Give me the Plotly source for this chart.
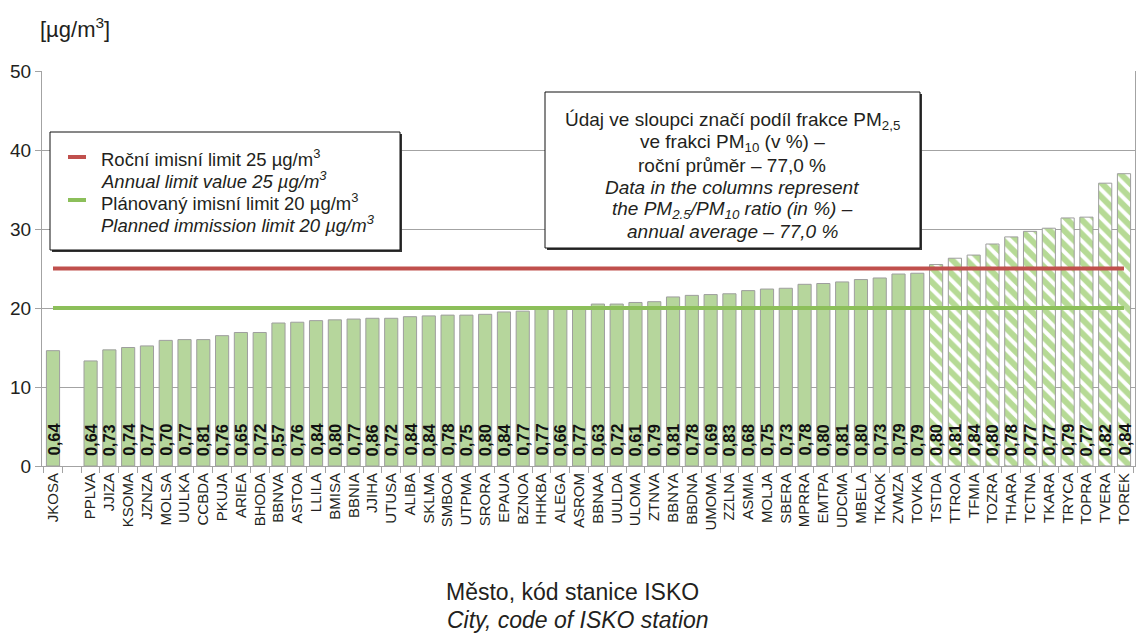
import plotly.graph_objects as go

# ---------------- data ----------------
stations = ["JKOSA", " ", "PPLVA", "JJIZA", "KSOMA", "JZNZA", "MOLSA", "UULKA", "CCBDA", "PKUJA",
            "ARIEA", "BHODA", "BBNVA", "ASTOA", "LLILA", "BMISA", "BBNIA", "JJIHA", "UTUSA", "ALIBA",
            "SKLMA", "SMBOA", "UTPMA", "SRORA", "EPAUA", "BZNOA", "HHKBA", "ALEGA", "ASROM", "BBNAA",
            "UULDA", "ULOMA", "ZTNVA", "BBNYA", "BBDNA", "UMOMA", "ZZLNA", "ASMIA", "MOLJA", "SBERA",
            "MPRRA", "EMTPA", "UDCMA", "MBELA", "TKAOK", "ZVMZA", "TOVKA", "TSTDA", "TTROA", "TFMIA",
            "TOZRA", "THARA", "TCTNA", "TKARA", "TRYCA", "TOPRA", "TVERA", "TOREK"]

pm25 = [14.6, None, 13.3, 14.7, 15.0, 15.2, 15.9, 16.0, 16.0, 16.5,
        16.9, 16.9, 18.1, 18.2, 18.4, 18.5, 18.6, 18.7, 18.7, 18.9,
        19.0, 19.1, 19.1, 19.2, 19.5, 19.6, 20.0, 20.0, 20.1, 20.5,
        20.5, 20.7, 20.8, 21.4, 21.6, 21.7, 21.8, 22.2, 22.4, 22.5,
        23.0, 23.1, 23.3, 23.6, 23.8, 24.3, 24.4, 25.5, 26.3, 26.7,
        28.1, 29.0, 29.7, 30.1, 31.4, 31.5, 35.8, 37.0]

ratio = ["0,64", "", "0,64", "0,73", "0,74", "0,77", "0,70", "0,77", "0,81", "0,76",
         "0,65", "0,72", "0,57", "0,76", "0,84", "0,80", "0,77", "0,86", "0,72", "0,84",
         "0,84", "0,78", "0,75", "0,80", "0,84", "0,77", "0,77", "0,66", "0,77", "0,63",
         "0,72", "0,61", "0,79", "0,81", "0,78", "0,69", "0,83", "0,68", "0,75", "0,73",
         "0,78", "0,80", "0,81", "0,80", "0,73", "0,79", "0,79", "0,80", "0,81", "0,84",
         "0,80", "0,78", "0,77", "0,77", "0,79", "0,77", "0,82", "0,84"]

annual_limit = 25
planned_limit = 20
y_ticks = [0, 10, 20, 30, 40, 50]

# ---------------- style ----------------
FONT = "Liberation Sans, Arial, sans-serif"
TXT = "#231f20"
GRID = "#a3a3a3"
BAR_FILL = "#b6d69c"
BAR_EDGE = "#9e9e9e"
HATCH = "#6db62c"
RED = "#c0504d"
GREEN = "#8cbf5a"

W, H = 1137, 633
L, R, T, B = 42, 2, 71, 167
PW, PH = W - L - R, H - T - B


def px(x):
    return (x - L) / PW


def py(y):
    return (H - B - y) / PH


normal = [v if (v is not None and v <= annual_limit) else None for v in pm25]
over = [v if (v is not None and v > annual_limit) else None for v in pm25]

fig = go.Figure()

fig.add_trace(go.Bar(
    x=stations, y=normal, marker=dict(color=BAR_FILL, line=dict(color=BAR_EDGE, width=1)),
    showlegend=False, hoverinfo="x+y"))
fig.add_trace(go.Bar(
    x=stations, y=over,
    marker=dict(color="white", line=dict(color=BAR_EDGE, width=1),
                pattern=dict(shape="\\", fgcolor=HATCH, bgcolor="white", size=10, solidity=0.6)),
    showlegend=False, hoverinfo="x+y"))

fig.add_trace(go.Scatter(x=[stations[0], stations[-1]], y=[annual_limit] * 2, mode="lines",
                         line=dict(color=RED, width=4), showlegend=False, hoverinfo="skip"))
fig.add_trace(go.Scatter(x=[stations[0], stations[-1]], y=[planned_limit] * 2, mode="lines",
                         line=dict(color=GREEN, width=4), showlegend=False, hoverinfo="skip"))

annotations = []
for s, r in zip(stations, ratio):
    if r:
        annotations.append(dict(x=s, y=0, xref="x", yref="y", text="<b>" + r + "</b>",
                                textangle=-90, showarrow=False, yanchor="bottom", yshift=8,
                                font=dict(family=FONT, size=16.5, color="#111111")))

shapes = []
# legend box (shadow + box)
shapes.append(dict(type="rect", xref="paper", yref="paper", x0=px(52), x1=px(402), y0=py(252), y1=py(134),
                   fillcolor="#333333", line=dict(width=0), layer="above"))
shapes.append(dict(type="rect", xref="paper", yref="paper", x0=px(50), x1=px(400), y0=py(250), y1=py(132),
                   fillcolor="white", line=dict(color="#111111", width=1), layer="above"))
shapes.append(dict(type="line", xref="paper", yref="paper", x0=px(68), x1=px(86), y0=py(157), y1=py(157),
                   line=dict(color=RED, width=4), layer="above"))
shapes.append(dict(type="line", xref="paper", yref="paper", x0=px(68), x1=px(86), y0=py(200), y1=py(200),
                   line=dict(color=GREEN, width=4), layer="above"))
# note box
shapes.append(dict(type="rect", xref="paper", yref="paper", x0=px(547), x1=px(922), y0=py(250), y1=py(94),
                   fillcolor="#333333", line=dict(width=0), layer="above"))
shapes.append(dict(type="rect", xref="paper", yref="paper", x0=px(545), x1=px(920), y0=py(248), y1=py(92),
                   fillcolor="white", line=dict(color="#111111", width=1), layer="above"))

legend_lines = [
    ("Roční imisní limit 25 µg/m<sup>3</sup>", 158),
    ("<i>Annual limit value 25 µg/m<sup>3</sup></i>", 180),
    ("Plánovaný imisní limit 20 µg/m<sup>3</sup>", 202),
    ("<i>Planned immission limit 20 µg/m<sup>3</sup></i>", 224),
]
for t, yy in legend_lines:
    annotations.append(dict(x=px(99), y=py(yy), xref="paper", yref="paper", text=t, showarrow=False,
                            xanchor="left", yanchor="middle", font=dict(family=FONT, size=18.5, color=TXT)))

note_lines = [
    ("Údaj ve sloupci značí podíl frakce PM<sub>2,5</sub>", 121),
    ("ve frakci PM<sub>10</sub> (v %) –", 143),
    ("roční průměr – 77,0 %", 165),
    ("<i>Data in the columns represent</i>", 187),
    ("<i>the PM<sub>2.5</sub>/PM<sub>10</sub> ratio (in %) –</i>", 210),
    ("<i>annual average – 77,0 %</i>", 232),
]
for t, yy in note_lines:
    annotations.append(dict(x=px(732), y=py(yy), xref="paper", yref="paper", text=t, showarrow=False,
                            xanchor="center", yanchor="middle", align="center",
                            font=dict(family=FONT, size=19, color=TXT)))

annotations.append(dict(x=px(38), y=py(28), xref="paper", yref="paper", text="[µg/m<sup>3</sup>]",
                        showarrow=False, xanchor="left", yanchor="middle",
                        font=dict(family=FONT, size=22, color=TXT)))
annotations.append(dict(x=px(572), y=py(592), xref="paper", yref="paper",
                        text="Město, kód stanice ISKO",
                        showarrow=False, xanchor="center", yanchor="middle",
                        font=dict(family=FONT, size=23, color=TXT)))
annotations.append(dict(x=px(578), y=py(620), xref="paper", yref="paper",
                        text="<i>City, code of ISKO station</i>",
                        showarrow=False, xanchor="center", yanchor="middle",
                        font=dict(family=FONT, size=23, color=TXT)))

fig.update_layout(
    width=W, height=H, margin=dict(l=L, r=R, t=T, b=B),
    paper_bgcolor="white", plot_bgcolor="white",
    barmode="overlay", bargap=0.3,
    font=dict(family=FONT, color=TXT),
    annotations=annotations, shapes=shapes,
    xaxis=dict(type="category", categoryorder="array", categoryarray=stations,
               tickangle=-90, tickfont=dict(family=FONT, size=15, color=TXT),
               ticks="outside", tickson="boundaries", ticklen=6, tickcolor=GRID,
               showline=True, linecolor=GRID, linewidth=1, showgrid=False, zeroline=False,
               fixedrange=True, tickmode="array", tickvals=stations, ticktext=stations),
    yaxis=dict(range=[0, 50], tickvals=y_ticks, tickfont=dict(family=FONT, size=19, color=TXT),
               ticks="outside", ticklen=6, tickcolor=GRID, showgrid=True, gridcolor=GRID, gridwidth=1,
               showline=True, linecolor=GRID, linewidth=1, mirror=True, zeroline=False,
               fixedrange=True),
)

fig.write_html("out.html", config={"displayModeBar": False},
               post_script="document.body.style.margin='0';")
